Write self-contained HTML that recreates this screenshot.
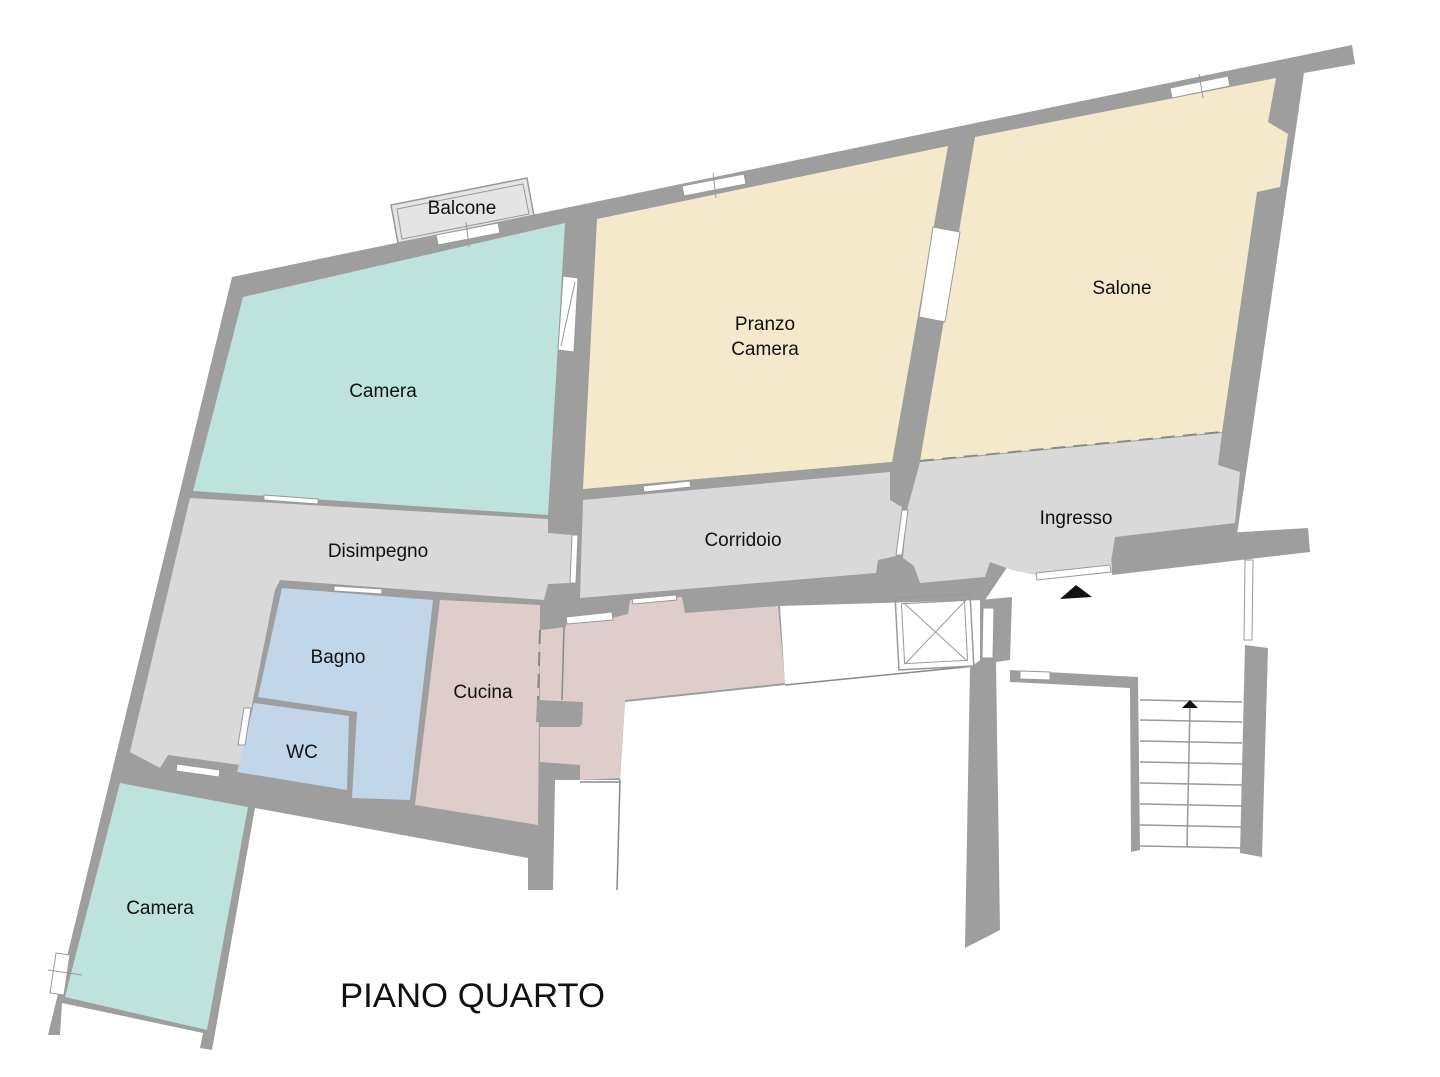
<!DOCTYPE html>
<html><head><meta charset="utf-8"><style>
html,body{margin:0;padding:0;background:#fff;width:1440px;height:1077px;overflow:hidden}
svg text{font-family:"Liberation Sans",sans-serif;fill:#111}
</style></head><body>
<svg width="1440" height="1077" viewBox="0 0 1440 1077">
<polygon points="391,205 527,178 534,216 398,243" fill="#e4e4e4" stroke="#999" stroke-width="1.5"/>
<polygon points="397,209 523,184 529,214 402,239" fill="none" stroke="#999" stroke-width="1"/>
<polygon fill="#9e9e9e" points="232,277 1352,45 1355,64 1304,73 1237,535 1012,560 985,600 780,606 785,685 625,702 620,780 555,780 553,890 528,890 528,858 255,808 212,1050 200,1048 203,1033 62,1003 60,1035 48,1035"/>
<polygon fill="#9e9e9e" points="1110,540 1308,528 1310,552 1112,575"/>
<polygon fill="#bde3dc" points="243,297 565,223 548,515 193,491"/>
<polygon fill="#f5e9cc" points="597,219 948,146 892,462 583,489"/>
<polygon fill="#f5e9cc" points="975,137 1276,78 1268,122 1288,134 1280,187 1257,192 1222,432 920,461"/>
<line x1="920" y1="461" x2="1222" y2="432" stroke="#888" stroke-width="2" stroke-dasharray="14,8"/>
<polygon fill="#d9d9d9" points="920,462 1222,433 1218,465 1240,472 1235,523 1115,537 1110,568 1035,575 1012,570 990,562 985,577 920,583 914,566 903,558 907,510"/>
<polygon fill="#d9d9d9" points="583,500 890,472 890,500 902,507 896,556 878,560 876,573 580,598"/>
<polygon fill="#d9d9d9" points="190,498 548,519 548,533 572,535 570,583 548,584 544,600 280,580 275,590 240,765 168,755 160,768 130,752"/>
<polygon fill="#c2d6ea" points="282,588 433,600 410,800 352,798 357,712 258,697"/>
<polygon fill="#c2d6ea" points="254,703 349,716 347,790 237,772"/>
<polygon fill="#dfcdcc" points="440,600 540,605 538,825 415,805"/>
<polygon fill="#dfcdcc" points="540,630 566,627 566,622 612,618 628,614 630,600 682,597 685,613 778,606 785,683 625,700 620,778 580,780 580,765 540,762 540,727 580,727 580,723 540,722 540,700"/>
<polygon fill="#9e9e9e" points="537,700 583,702 582,725 536,722"/>
<line x1="564" y1="627" x2="562" y2="700" stroke="#888" stroke-width="1.5"/>
<line x1="540" y1="630" x2="538" y2="700" stroke="#888" stroke-width="2" stroke-dasharray="14,8"/>
<polygon fill="#bde3dc" points="120,783 248,807 207,1030 65,997"/>
<g stroke="#999" stroke-width="1">
<polygon fill="#fff" points="436,235 498,223 500,233 438,245"/>
<polygon fill="#fff" points="682,186 744,174 746,184 684,196"/>
<polygon fill="#fff" points="1170,88 1228,76 1230,86 1172,98"/>
<polygon fill="#fff" points="933,227 960,232 945,322 919,317"/>
<polygon fill="#fff" points="563,276 578,278 574,352 558,350"/>
<line x1="575" y1="282" x2="561" y2="346"/>
<polygon fill="#fff" points="264,495 318,499 318,504 264,500"/>
<polygon fill="#fff" points="643,486 690,481 691,487 644,492"/>
<polygon fill="#fff" points="334,586 382,589 382,594 334,591"/>
<polygon fill="#fff" points="566,617 612,612 613,620 567,624"/>
<polygon fill="#fff" points="632,599 676,595 677,600 633,604"/>
<polygon fill="#fff" points="572,535 578,535 576,583 570,583"/>
<polygon fill="#fff" points="902,510 908,510 902,555 896,555"/>
<polygon fill="#fff" points="177,764 220,770 219,777 176,771"/>
<polygon fill="#fff" points="244,708 251,708 245,745 238,745"/>
<polygon fill="#fff" points="1036,573 1110,565 1111,572 1037,580"/>
<polygon fill="#fff" points="56,953 70,955 64,995 50,993"/>
</g>
<line x1="713" y1="173" x2="716" y2="198" stroke="#999"/>
<line x1="466" y1="222" x2="469" y2="247" stroke="#999"/>
<line x1="1199" y1="74" x2="1203" y2="98" stroke="#999"/>
<line x1="48" y1="970" x2="82" y2="975" stroke="#999"/>
<line x1="785" y1="685" x2="985" y2="665" stroke="#888" stroke-width="1.5"/>
<line x1="620" y1="780" x2="617" y2="890" stroke="#888" stroke-width="1.5"/>
<line x1="580" y1="782" x2="620" y2="782" stroke="#888" stroke-width="1.5"/>
<rect x="897" y="596" width="75" height="72" fill="none" stroke="#999" stroke-width="1.5" transform="rotate(-3 935 632)"/>
<rect x="903" y="602" width="63" height="60" fill="none" stroke="#999" stroke-width="1" transform="rotate(-3 935 632)"/>
<line x1="905" y1="604" x2="966" y2="660" stroke="#999"/>
<line x1="966" y1="600" x2="905" y2="664" stroke="#999"/>
<polygon fill="#9e9e9e" points="980,600 1012,597 1010,660 996,662 1000,930 965,948 970,668 980,660"/>
<polygon fill="#fff" stroke="#999" points="983,608 994,608 993,658 982,658"/>
<polygon fill="#9e9e9e" points="1010,670 1138,677 1140,850 1131,852 1130,688 1010,682"/>
<polygon fill="#fff" stroke="#999" points="1020,671 1050,672 1050,680 1020,679"/>
<polygon fill="#9e9e9e" points="1245,645 1268,648 1262,857 1240,853"/>
<polygon fill="#fff" stroke="#999" points="1245,560 1253,560 1252,640 1244,640"/>
<g stroke="#999" stroke-width="1.5">
<line x1="1140" y1="700" x2="1242" y2="702"/><line x1="1140" y1="720" x2="1242" y2="722"/>
<line x1="1140" y1="741" x2="1242" y2="743"/><line x1="1140" y1="762" x2="1242" y2="764"/>
<line x1="1140" y1="783" x2="1242" y2="785"/><line x1="1140" y1="804" x2="1242" y2="806"/>
<line x1="1140" y1="825" x2="1242" y2="827"/><line x1="1140" y1="846" x2="1242" y2="848"/>
<line x1="1190" y1="705" x2="1187" y2="847"/>
</g>
<polygon fill="#111" points="1190,700 1182,708 1198,708"/>
<polygon fill="#111" points="1076,585 1060,599 1092,597"/>
<g font-size="19" text-anchor="middle">
<text x="462" y="214">Balcone</text>
<text x="383" y="397">Camera</text>
<text x="765" y="330">Pranzo</text>
<text x="765" y="355">Camera</text>
<text x="1122" y="294">Salone</text>
<text x="1076" y="524">Ingresso</text>
<text x="743" y="546">Corridoio</text>
<text x="378" y="557">Disimpegno</text>
<text x="338" y="663">Bagno</text>
<text x="483" y="698">Cucina</text>
<text x="302" y="758">WC</text>
<text x="160" y="914">Camera</text>
</g>
<text x="340" y="1007" font-size="34" textLength="265" lengthAdjust="spacingAndGlyphs">PIANO QUARTO</text>
</svg>
</body></html>
